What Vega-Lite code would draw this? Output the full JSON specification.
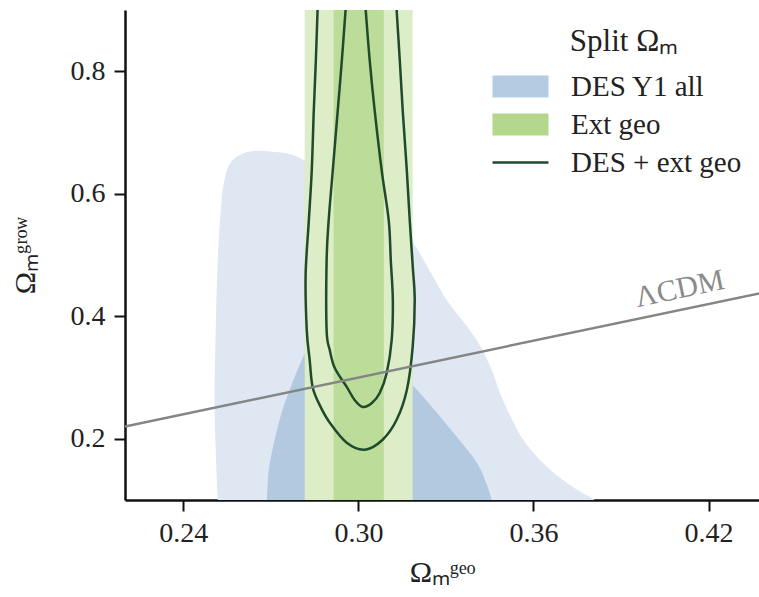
{
  "$schema": "https://vega.github.io/schema/vega-lite/v6.json",
  "width": 634,
  "height": 490,
  "autosize": {"type": "none"},
  "padding": {"left": 125, "top": 10, "right": 0, "bottom": 87},
  "background": "white",
  "config": {
    "view": {"stroke": null},
    "axis": {
      "grid": false,
      "domainColor": "#111",
      "domainWidth": 2.5,
      "tickColor": "#111",
      "tickWidth": 2,
      "tickSize": 11,
      "labelFont": "Liberation Serif",
      "labelFontSize": 28,
      "labelColor": "#222",
      "titleFont": "Liberation Serif",
      "titleFontSize": 30,
      "titleFontWeight": "normal",
      "titleColor": "#222",
      "labelFlush": false,
      "labelOverlap": false
    },
    "legend": {
      "orient": "top-right",
      "offset": 17,
      "titleFont": "Liberation Serif",
      "titleFontSize": 31,
      "titleFontWeight": "normal",
      "titleColor": "#222",
      "titleAnchor": "middle",
      "titlePadding": 14,
      "labelFont": "Liberation Serif",
      "labelFontSize": 29,
      "labelColor": "#222",
      "labelLimit": 400,
      "labelOffset": 36,
      "symbolSize": 484,
      "symbolStrokeWidth": 0,
      "symbolOpacity": 1,
      "rowPadding": 8
    }
  },
  "datasets": {
    "contours": [
      {"name": "blue95", "i": 1, "x": 0.2518, "y": 0.1},
      {"name": "blue95", "i": 2, "x": 0.2511, "y": 0.1821},
      {"name": "blue95", "i": 3, "x": 0.2507, "y": 0.2634},
      {"name": "blue95", "i": 4, "x": 0.2511, "y": 0.3772},
      {"name": "blue95", "i": 5, "x": 0.2518, "y": 0.4911},
      {"name": "blue95", "i": 6, "x": 0.2531, "y": 0.5886},
      {"name": "blue95", "i": 7, "x": 0.2542, "y": 0.6244},
      {"name": "blue95", "i": 8, "x": 0.2559, "y": 0.6488},
      {"name": "blue95", "i": 9, "x": 0.2593, "y": 0.6634},
      {"name": "blue95", "i": 10, "x": 0.2644, "y": 0.6699},
      {"name": "blue95", "i": 11, "x": 0.2713, "y": 0.6683},
      {"name": "blue95", "i": 12, "x": 0.2764, "y": 0.665},
      {"name": "blue95", "i": 13, "x": 0.2806, "y": 0.6569},
      {"name": "blue95", "i": 14, "x": 0.286, "y": 0.6407},
      {"name": "blue95", "i": 15, "x": 0.2936, "y": 0.613},
      {"name": "blue95", "i": 16, "x": 0.3039, "y": 0.5805},
      {"name": "blue95", "i": 17, "x": 0.3124, "y": 0.548},
      {"name": "blue95", "i": 18, "x": 0.3186, "y": 0.5203},
      {"name": "blue95", "i": 19, "x": 0.3244, "y": 0.4748},
      {"name": "blue95", "i": 20, "x": 0.3303, "y": 0.426},
      {"name": "blue95", "i": 21, "x": 0.3364, "y": 0.3886},
      {"name": "blue95", "i": 22, "x": 0.3416, "y": 0.3528},
      {"name": "blue95", "i": 23, "x": 0.3457, "y": 0.3122},
      {"name": "blue95", "i": 24, "x": 0.3484, "y": 0.2764},
      {"name": "blue95", "i": 25, "x": 0.3519, "y": 0.239},
      {"name": "blue95", "i": 26, "x": 0.356, "y": 0.2016},
      {"name": "blue95", "i": 27, "x": 0.3621, "y": 0.1659},
      {"name": "blue95", "i": 28, "x": 0.369, "y": 0.1366},
      {"name": "blue95", "i": 29, "x": 0.3759, "y": 0.1138},
      {"name": "blue95", "i": 30, "x": 0.381, "y": 0.1},
      {"name": "blue95", "i": 31, "x": 0.385, "y": 0.08},
      {"name": "blue95", "i": 32, "x": 0.2525, "y": 0.08},

      {"name": "blue68", "i": 1, "x": 0.2686, "y": 0.1},
      {"name": "blue68", "i": 2, "x": 0.2693, "y": 0.1496},
      {"name": "blue68", "i": 3, "x": 0.2713, "y": 0.1984},
      {"name": "blue68", "i": 4, "x": 0.274, "y": 0.2472},
      {"name": "blue68", "i": 5, "x": 0.2771, "y": 0.2878},
      {"name": "blue68", "i": 6, "x": 0.2806, "y": 0.3285},
      {"name": "blue68", "i": 7, "x": 0.284, "y": 0.3561},
      {"name": "blue68", "i": 8, "x": 0.2902, "y": 0.3724},
      {"name": "blue68", "i": 9, "x": 0.3004, "y": 0.361},
      {"name": "blue68", "i": 10, "x": 0.3107, "y": 0.3285},
      {"name": "blue68", "i": 11, "x": 0.3186, "y": 0.2878},
      {"name": "blue68", "i": 12, "x": 0.3255, "y": 0.2504},
      {"name": "blue68", "i": 13, "x": 0.3337, "y": 0.2033},
      {"name": "blue68", "i": 14, "x": 0.3406, "y": 0.161},
      {"name": "blue68", "i": 15, "x": 0.344, "y": 0.1252},
      {"name": "blue68", "i": 16, "x": 0.3457, "y": 0.1},
      {"name": "blue68", "i": 17, "x": 0.347, "y": 0.08},
      {"name": "blue68", "i": 18, "x": 0.268, "y": 0.08}
    ],
    "lines": [
      {"name": "outer", "i": 1, "x": 0.286, "y": 0.9},
      {"name": "outer", "i": 2, "x": 0.2854, "y": 0.8163},
      {"name": "outer", "i": 3, "x": 0.2847, "y": 0.735},
      {"name": "outer", "i": 4, "x": 0.284, "y": 0.6374},
      {"name": "outer", "i": 5, "x": 0.283, "y": 0.5561},
      {"name": "outer", "i": 6, "x": 0.2819, "y": 0.4667},
      {"name": "outer", "i": 7, "x": 0.2823, "y": 0.3772},
      {"name": "outer", "i": 8, "x": 0.2833, "y": 0.3285},
      {"name": "outer", "i": 9, "x": 0.2843, "y": 0.2846},
      {"name": "outer", "i": 10, "x": 0.2867, "y": 0.2553},
      {"name": "outer", "i": 11, "x": 0.2902, "y": 0.226},
      {"name": "outer", "i": 12, "x": 0.296, "y": 0.1935},
      {"name": "outer", "i": 13, "x": 0.3022, "y": 0.1821},
      {"name": "outer", "i": 14, "x": 0.3083, "y": 0.1984},
      {"name": "outer", "i": 15, "x": 0.3131, "y": 0.2309},
      {"name": "outer", "i": 16, "x": 0.3166, "y": 0.2797},
      {"name": "outer", "i": 17, "x": 0.3186, "y": 0.3496},
      {"name": "outer", "i": 18, "x": 0.3193, "y": 0.426},
      {"name": "outer", "i": 19, "x": 0.3186, "y": 0.4829},
      {"name": "outer", "i": 20, "x": 0.3176, "y": 0.5561},
      {"name": "outer", "i": 21, "x": 0.3166, "y": 0.6374},
      {"name": "outer", "i": 22, "x": 0.3152, "y": 0.735},
      {"name": "outer", "i": 23, "x": 0.3142, "y": 0.8163},
      {"name": "outer", "i": 24, "x": 0.3131, "y": 0.9},

      {"name": "inner", "i": 1, "x": 0.2956, "y": 0.9},
      {"name": "inner", "i": 2, "x": 0.2943, "y": 0.8163},
      {"name": "inner", "i": 3, "x": 0.2929, "y": 0.735},
      {"name": "inner", "i": 4, "x": 0.2912, "y": 0.6374},
      {"name": "inner", "i": 5, "x": 0.2898, "y": 0.5561},
      {"name": "inner", "i": 6, "x": 0.2891, "y": 0.4911},
      {"name": "inner", "i": 7, "x": 0.2891, "y": 0.3772},
      {"name": "inner", "i": 8, "x": 0.2902, "y": 0.3447},
      {"name": "inner", "i": 9, "x": 0.2919, "y": 0.3154},
      {"name": "inner", "i": 10, "x": 0.296, "y": 0.2846},
      {"name": "inner", "i": 11, "x": 0.2987, "y": 0.2634},
      {"name": "inner", "i": 12, "x": 0.3015, "y": 0.252},
      {"name": "inner", "i": 13, "x": 0.3046, "y": 0.2585},
      {"name": "inner", "i": 14, "x": 0.3073, "y": 0.2748},
      {"name": "inner", "i": 15, "x": 0.3097, "y": 0.3073},
      {"name": "inner", "i": 16, "x": 0.3114, "y": 0.361},
      {"name": "inner", "i": 17, "x": 0.3118, "y": 0.426},
      {"name": "inner", "i": 18, "x": 0.3111, "y": 0.4911},
      {"name": "inner", "i": 19, "x": 0.3104, "y": 0.5561},
      {"name": "inner", "i": 20, "x": 0.308, "y": 0.6374},
      {"name": "inner", "i": 21, "x": 0.3056, "y": 0.735},
      {"name": "inner", "i": 22, "x": 0.3039, "y": 0.8163},
      {"name": "inner", "i": 23, "x": 0.3025, "y": 0.9}
    ],
    "bands": [
      {"name": "ext95", "x1": 0.2816, "x2": 0.3186},
      {"name": "ext68", "x1": 0.2915, "x2": 0.3087}
    ],
    "lcdm": [
      {"x": 0.22, "y": 0.22},
      {"x": 0.44, "y": 0.44}
    ],
    "lcdmlabel": [
      {"label": "ΛCDM", "x": 0.4108, "y": 0.43}
    ],
    "legend": [
      {"series": "DES Y1 all"},
      {"series": "Ext geo"},
      {"series": "DES + ext geo"}
    ]
  },
  "encoding": {
    "x": {
      "type": "quantitative",
      "scale": {"domain": [0.22, 0.4373], "nice": false, "zero": false},
      "axis": {
        "values": [0.24, 0.3, 0.36, 0.42],
        "format": ".2f",
        "title": "Ωₘᵍᵉᵒ",
        "labelPadding": 8,
        "titlePadding": 10
      }
    },
    "y": {
      "type": "quantitative",
      "scale": {"domain": [0.1, 0.9], "nice": false, "zero": false},
      "axis": {
        "values": [0.2, 0.4, 0.6, 0.8],
        "format": ".1f",
        "title": "Ωₘᵍʳᵒʷ",
        "labelPadding": 9,
        "titlePadding": 30
      }
    }
  },
  "layer": [
    {
      "data": {"name": "contours"},
      "transform": [{"filter": "datum.name === 'blue95'"}],
      "mark": {"type": "line", "interpolate": "cardinal-closed", "fill": "#dee7f2", "strokeWidth": 0, "clip": true},
      "encoding": {
        "x": {"field": "x"},
        "y": {"field": "y"},
        "order": {"field": "i", "type": "quantitative"}
      }
    },
    {
      "data": {"name": "contours"},
      "transform": [{"filter": "datum.name === 'blue68'"}],
      "mark": {"type": "line", "interpolate": "cardinal-closed", "fill": "#b2c9e0", "strokeWidth": 0, "clip": true},
      "encoding": {
        "x": {"field": "x"},
        "y": {"field": "y"},
        "order": {"field": "i", "type": "quantitative"}
      }
    },
    {
      "data": {"name": "bands"},
      "transform": [{"filter": "datum.name === 'ext95'"}],
      "mark": {"type": "rect", "color": "#dcedc8", "clip": true},
      "encoding": {
        "x": {"field": "x1"},
        "x2": {"field": "x2"},
        "y": {"datum": 0.1},
        "y2": {"datum": 0.9}
      }
    },
    {
      "data": {"name": "bands"},
      "transform": [{"filter": "datum.name === 'ext68'"}],
      "mark": {"type": "rect", "color": "#bcdc99", "clip": true},
      "encoding": {
        "x": {"field": "x1"},
        "x2": {"field": "x2"},
        "y": {"datum": 0.1},
        "y2": {"datum": 0.9}
      }
    },
    {
      "data": {"name": "lines"},
      "mark": {"type": "line", "interpolate": "cardinal", "color": "#1f4a2c", "strokeWidth": 2.5, "clip": true},
      "encoding": {
        "x": {"field": "x"},
        "y": {"field": "y"},
        "detail": {"field": "name"},
        "order": {"field": "i", "type": "quantitative"}
      }
    },
    {
      "data": {"name": "lcdm"},
      "mark": {"type": "line", "color": "#858585", "strokeWidth": 2.5, "clip": true},
      "encoding": {
        "x": {"field": "x"},
        "y": {"field": "y"}
      }
    },
    {
      "data": {"name": "lcdmlabel"},
      "mark": {"type": "text", "font": "Liberation Serif", "fontSize": 30, "color": "#8a8a8a", "angle": -11.9, "align": "center", "baseline": "alphabetic"},
      "encoding": {
        "x": {"field": "x"},
        "y": {"field": "y"},
        "text": {"field": "label"}
      }
    },
    {
      "mark": {"type": "rule", "color": "#111", "strokeWidth": 2.5},
      "encoding": {"y": {"datum": 0.9}}
    },
    {
      "data": {"name": "legend"},
      "mark": {"type": "point", "filled": true, "opacity": 1, "size": 484, "clip": true, "strokeWidth": 0},
      "encoding": {
        "x": {"datum": 0.1},
        "y": {"datum": 0.0},
        "color": {
          "field": "series",
          "type": "nominal",
          "title": "Split Ωₘ",
          "scale": {"domain": ["DES Y1 all", "Ext geo", "DES + ext geo"], "range": ["#b4cbe2", "#b3d88c", "#1f4a2c"]}
        },
        "shape": {
          "field": "series",
          "type": "nominal",
          "title": "Split Ωₘ",
          "scale": {
            "domain": ["DES Y1 all", "Ext geo", "DES + ext geo"],
            "range": ["M-2.545,-1H2.545V1H-2.545Z", "M-2.545,-1H2.545V1H-2.545Z", "M-2.545,-0.12H2.545V0.12H-2.545Z"]
          }
        }
      }
    }
  ]
}
